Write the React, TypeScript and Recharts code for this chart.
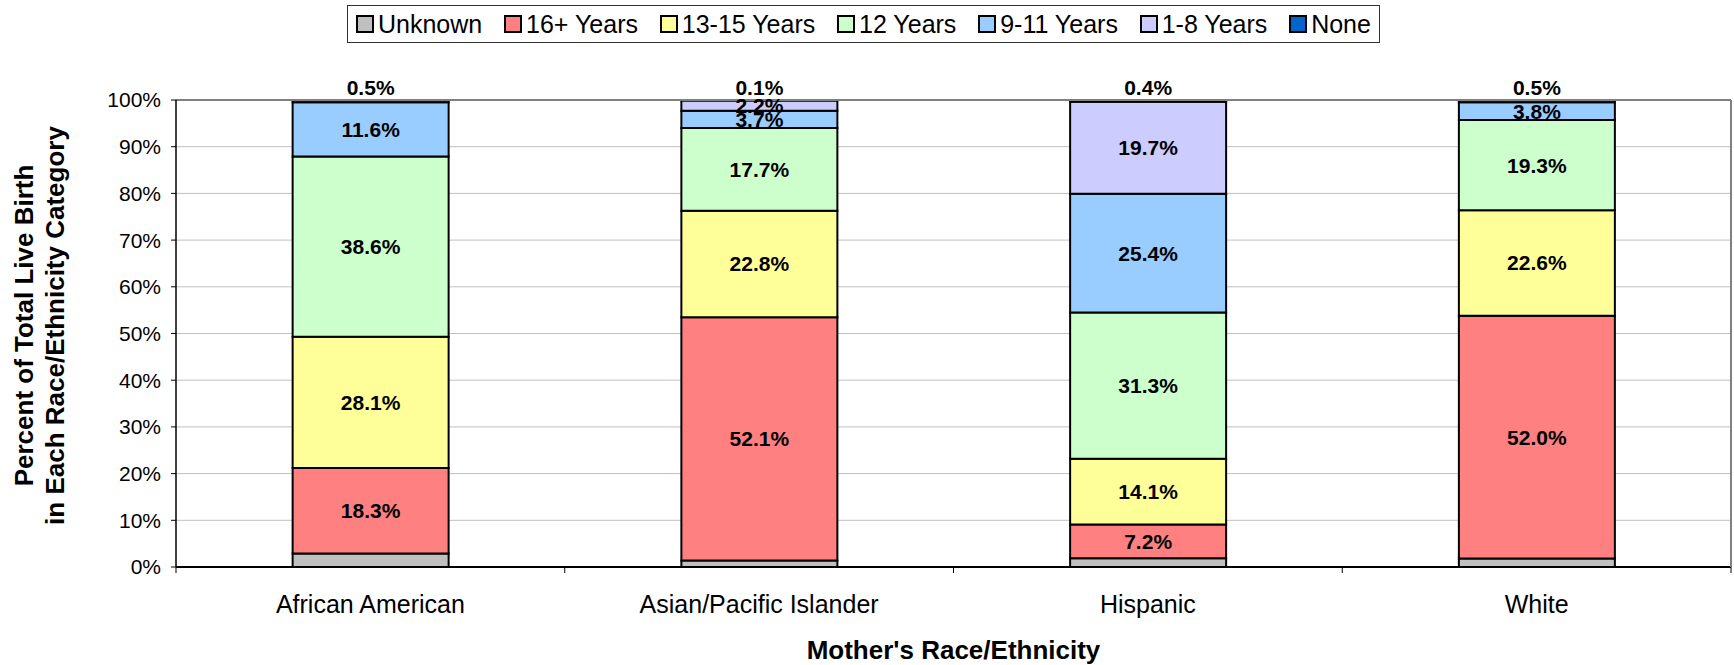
import React from "react";
import {
  BarChart,
  Bar,
  XAxis,
  YAxis,
  CartesianGrid,
  Legend,
  LabelList,
  ReferenceLine,
} from "recharts";

// ---------------------------------------------------------------------------
// Data (percent of live births)
// ---------------------------------------------------------------------------

const categories = ["African American", "Asian/Pacific Islander", "Hispanic", "White"];

const unknown = [2.9, 1.4, 1.9, 1.8];
const years16plus = [18.3, 52.1, 7.2, 52.0];
const years13to15 = [28.1, 22.8, 14.1, 22.6];
const years12 = [38.6, 17.7, 31.3, 19.3];
const years9to11 = [11.6, 3.7, 25.4, 3.8];
const years1to8 = [0, 2.2, 19.7, 0];
const none = [0.5, 0.1, 0.4, 0.5];

const yTicks = [0, 10, 20, 30, 40, 50, 60, 70, 80, 90, 100];

const series = [
  { key: "unknown", name: "Unknown", values: unknown, color: "#C0C0C0", label: "none" },
  { key: "y16", name: "16+ Years", values: years16plus, color: "#FF8080", label: "center" },
  { key: "y13", name: "13-15 Years", values: years13to15, color: "#FFFF99", label: "center" },
  { key: "y12", name: "12 Years", values: years12, color: "#CCFFCC", label: "center" },
  { key: "y9", name: "9-11 Years", values: years9to11, color: "#99CCFF", label: "center" },
  { key: "y1", name: "1-8 Years", values: years1to8, color: "#CCCCFF", label: "center" },
  { key: "none", name: "None", values: none, color: "#0066CC", label: "top" },
];

const data = categories.map((name, i) => {
  const row: Record<string, string | number> = { name };
  series.forEach((s) => {
    row[s.key] = s.values[i];
  });
  return row;
});

const FONT = '"Liberation Sans", Arial, sans-serif';
const X_TICK_SIZE = 6;
const X_TICK_GAP = 22;

// ---------------------------------------------------------------------------
// Pieces
// ---------------------------------------------------------------------------

function ChartLegend() {
  return (
    <div style={{ height: 95 }}>
      <div
        style={{
          display: "flex",
          justifyContent: "space-between",
          alignItems: "center",
          height: 38,
          padding: "0 8px",
          border: "1px solid #333",
          fontFamily: FONT,
          fontSize: 25,
          color: "#000",
          boxSizing: "border-box",
          background: "#fff",
        }}
      >
        {series.map((s) => (
          <div key={s.key} style={{ display: "flex", alignItems: "center" }}>
            <span
              style={{
                width: 14,
                height: 14,
                border: "2px solid #000",
                background: s.color,
                marginRight: 4,
                display: "inline-block",
              }}
            />
            <span style={{ lineHeight: "38px" }}>{s.name}</span>
          </div>
        ))}
      </div>
    </div>
  );
}

function CategoryTick(props: any) {
  const { x, y, payload, index, width, visibleTicksCount } = props;
  const half =
    payload && payload.offset ? payload.offset : width / (visibleTicksCount || 1) / 2;
  const axisY = y - X_TICK_SIZE - X_TICK_GAP;
  return (
    <g>
      {index === 0 && (
        <line x1={x - half} x2={x - half} y1={axisY} y2={axisY + X_TICK_SIZE} stroke="#000" />
      )}
      <line x1={x + half} x2={x + half} y1={axisY} y2={axisY + X_TICK_SIZE} stroke="#000" />
      <text
        x={x}
        y={y}
        dy="0.71em"
        textAnchor="middle"
        fontFamily={FONT}
        fontSize={25}
        fill="#000"
      >
        {payload.value}
      </text>
    </g>
  );
}

function centerLabel(props: any) {
  const { x, y, width, height, value } = props;
  if (!value) return null;
  return (
    <text
      x={x + width / 2}
      y={y + height / 2}
      dominantBaseline="central"
      textAnchor="middle"
      fontFamily={FONT}
      fontWeight="bold"
      fontSize={21}
      fill="#000"
    >
      {`${Number(value).toFixed(1)}%`}
    </text>
  );
}

function topLabel(props: any) {
  const { x, y, width, value } = props;
  if (!value) return null;
  return (
    <text
      x={x + width / 2}
      y={y - 5}
      textAnchor="middle"
      fontFamily={FONT}
      fontWeight="bold"
      fontSize={21}
      fill="#000"
    >
      {`${Number(value).toFixed(1)}%`}
    </text>
  );
}

function YTitle(props: any) {
  const { viewBox } = props;
  const cy = viewBox.y + viewBox.height / 2 - 8;
  return (
    <g>
      <text
        transform={`translate(24, ${cy}) rotate(-90)`}
        textAnchor="middle"
        dominantBaseline="central"
        fontFamily={FONT}
        fontWeight="bold"
        fontSize={26}
        fill="#000"
      >
        Percent of Total Live Birth
      </text>
      <text
        transform={`translate(55, ${cy}) rotate(-90)`}
        textAnchor="middle"
        dominantBaseline="central"
        fontFamily={FONT}
        fontWeight="bold"
        fontSize={26}
        fill="#000"
      >
        in Each Race/Ethnicity Category
      </text>
    </g>
  );
}

function XTitle(props: any) {
  const { viewBox } = props;
  return (
    <text
      x={viewBox.x + viewBox.width / 2}
      y={659}
      textAnchor="middle"
      fontFamily={FONT}
      fontWeight="bold"
      fontSize={26}
      fill="#000"
    >
      Mother's Race/Ethnicity
    </text>
  );
}

// ---------------------------------------------------------------------------
// App
// ---------------------------------------------------------------------------

export default function App() {
  return (
    <div style={{ position: "absolute", left: 0, top: 0, background: "#fff" }}>
      <BarChart
        width={1734}
        height={665}
        data={data}
        margin={{ top: 5, right: 0, bottom: 0, left: 0 }}
        barCategoryGap="30%"
      >
        <CartesianGrid horizontal vertical={false} stroke="#C0C0C0" />
        <XAxis
          dataKey="name"
          height={98}
          tickLine={false}
          tickSize={X_TICK_SIZE}
          tickMargin={X_TICK_GAP}
          axisLine={{ stroke: "#000", strokeWidth: 2 }}
          tick={<CategoryTick />}
          interval={0}
          label={<XTitle />}
        />
        <YAxis
          width={176}
          domain={[0, 100]}
          ticks={yTicks}
          allowDataOverflow
          tickFormatter={(v: number) => `${v}%`}
          tick={{ fontFamily: FONT, fontSize: 21, fill: "#000" }}
          tickSize={5}
          tickMargin={10}
          tickLine={{ stroke: "#000" }}
          axisLine={{ stroke: "#000", strokeWidth: 1.5 }}
          label={<YTitle />}
        />
        <YAxis
          yAxisId="frame"
          orientation="right"
          width={3}
          domain={[0, 100]}
          tick={false}
          tickLine={false}
          axisLine={{ stroke: "#808080", strokeWidth: 2 }}
        />
        <ReferenceLine y={100} stroke="#808080" strokeWidth={2} />
        <Legend
          verticalAlign="top"
          content={<ChartLegend />}
          wrapperStyle={{ left: 347, top: 5, width: 1033 }}
        />
        {series.map((s) => (
          <Bar
            key={s.key}
            dataKey={s.key}
            name={s.name}
            stackId="a"
            fill={s.color}
            stroke="#000"
            strokeWidth={2}
            isAnimationActive={false}
          >
            {s.label === "center" && <LabelList dataKey={s.key} content={centerLabel} />}
            {s.label === "top" && <LabelList dataKey={s.key} content={topLabel} />}
          </Bar>
        ))}
      </BarChart>
    </div>
  );
}
